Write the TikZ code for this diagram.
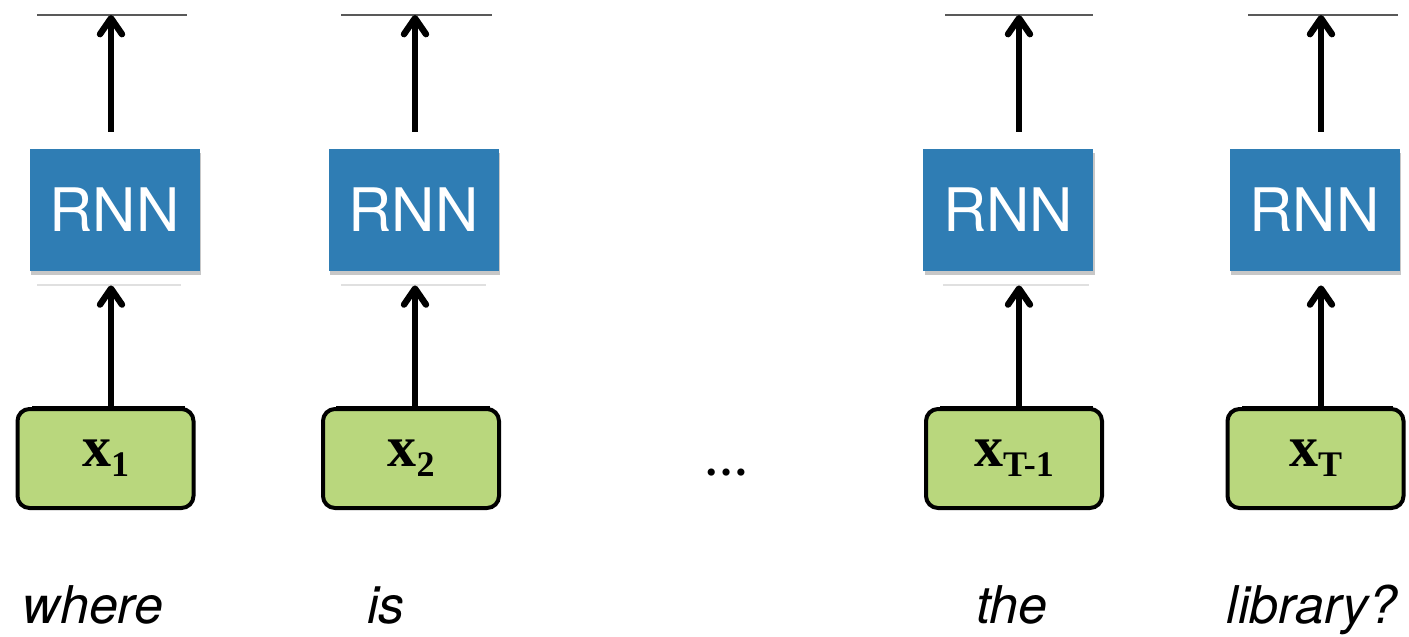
\documentclass[tikz,border=0pt]{standalone}
\usepackage{fontspec}
\setmainfont{Liberation Serif}
\newfontfamily\hv{TeX Gyre Heros}
\newfontfamily\tms{Liberation Serif}
\usetikzlibrary{arrows.meta,shadows}
\definecolor{rnnblue}{RGB}{47,125,180}
\definecolor{xgreen}{RGB}{185,215,125}
\tikzset{
  rnnbox/.style={fill=rnnblue, minimum width=85pt, minimum height=61pt, inner sep=0pt,
    text=white, font=\hv\fontsize{30}{30}\selectfont,
    drop shadow={shadow xshift=0.8pt, shadow yshift=-2pt, opacity=0.22, fill=black}},
  xbox/.style={fill=xgreen, draw=black, line width=2pt, rounded corners=6pt,
    minimum width=88pt, minimum height=49.5pt, inner sep=0pt,
    font=\tms\bfseries\fontsize{29}{29}\selectfont},
  arr/.style={line width=3.2pt, -{Straight Barb[length=8pt,width=11pt,round]}},
  topline/.style={draw=black!65, line width=0.8pt},
  midline/.style={draw=black!12, line width=0.8pt},
  boxline/.style={draw=black, line width=1.2pt},
  word/.style={anchor=base, font=\hv\itshape\fontsize{26}{26}\selectfont},
}
\newcommand{\xsub}[1]{x\raisebox{-5pt}{\fontsize{18}{18}\selectfont #1}}
\begin{document}
\begin{tikzpicture}[x=0.5pt,y=-0.5pt]
\useasboundingbox (0,0) rectangle (1409,637);
% column positions
\coordinate (t1) at (111,15);
\coordinate (t2) at (415,15);
\coordinate (t3) at (1019,15);
\coordinate (t4) at (1321,15);
% top lines
\draw[topline] (37,15) -- (187,15);
\draw[topline] (341,15) -- (492,15);
\draw[topline] (945,15) -- (1093,15);
\draw[topline] (1248,15) -- (1398,15);
% lines below RNN
\draw[midline] (37,285) -- (181,285);
\draw[midline] (341,285) -- (486,285);
\draw[midline] (943,285) -- (1089,285);
% lines above green boxes
\draw[boxline] (32,407) -- (185,407);
\draw[boxline] (336,407) -- (490,407);
\draw[boxline] (940,407) -- (1093,407);
\draw[boxline] (1242,407) -- (1393,407);
% RNN boxes
\node[rnnbox] (r1) at (114.5,210) {RNN};
\node[rnnbox] (r2) at (413.5,210) {RNN};
\node[rnnbox] (r3) at (1008,210) {RNN};
\node[rnnbox] (r4) at (1314.5,210) {RNN};
% input boxes
\node[xbox] (g1) at (105.5,458.5) {\xsub{1}};
\node[xbox] (g2) at (411,458.5) {\xsub{2}};
\node[xbox] (g3) at (1014,458.5) {\xsub{T-1}};
\node[xbox] (g4) at (1315.5,458.5) {\xsub{T}};
% arrows
\foreach \i in {1,2,3,4}{
  \draw[arr, shorten <=8.5pt] (t\i |- r\i.north) -- (t\i);
  \draw[arr, shorten >=7pt] (t\i |- g\i.north) -- (t\i |- r\i.south);
}
% dots
\node[anchor=base, font=\tms\bfseries\fontsize{22}{22}\selectfont] (dots) at (726,475) {…};
% words
\node[word] (w1) at (93,623) {where};
\node[word] (w2) at (386,623) {is};
\node[word] (w3) at (1012,623) {the};
\node[word] (w4) at (1312,623) {library?};
\end{tikzpicture}
\end{document}
